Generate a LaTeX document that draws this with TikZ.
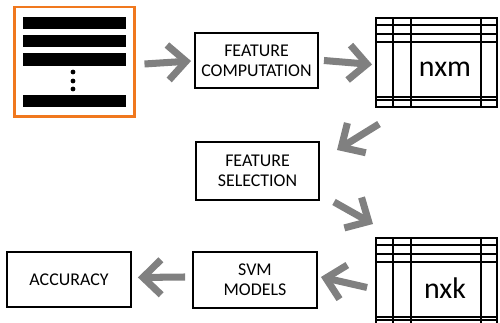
\documentclass[tikz,border=0pt]{standalone}
\usepackage{fontspec}
\setmainfont{Carlito}
\usetikzlibrary{arrows.meta}
\definecolor{frameorange}{RGB}{240,120,30}
\definecolor{arrowgray}{RGB}{128,128,128}
\tikzset{
  procbox/.style={draw=black, line width=1.1pt, minimum width=2.46cm, minimum height=1.1cm,
    align=center, font=\fontsize{10.2}{11.4}\selectfont, inner sep=0pt},
  matbox/.style={draw=black, line width=1.1pt, minimum width=2.42cm, minimum height=1.78cm,
    inner sep=0pt},
  matlabel/.style={font=\fontsize{17}{20}\selectfont, inner sep=0pt},
  matline/.style={line width=1.1pt},
  bigarrow/.style={draw=arrowgray, line width=4pt,
    -{Straight Barb[length=0.36cm, width=0.7cm, line width=4pt]}},
  bar/.style={fill=black},
}
\begin{document}
\begin{tikzpicture}[x=0.02cm, y=-0.02cm]
\useasboundingbox (0,0) rectangle (500,323);
\clip (0,0) rectangle (500,323);
% orange list box
\node[draw=frameorange, line width=1.7pt, minimum width=2.42cm, minimum height=2.2cm, inner sep=0pt] (list) at (74.5,62) {};
\fill[bar] (23,17) rectangle (126,29);
\fill[bar] (23,35) rectangle (126,47);
\fill[bar] (23,53) rectangle (126,66);
\fill[bar] (23,95) rectangle (126,107);
\fill (73,72) circle (2.4);
\fill (73,81) circle (2.4);
\fill (73,89) circle (2.4);
% process boxes
\node[procbox] (fc) at (256.5,60.5) {FEATURE\\COMPUTATION};
\node[procbox, minimum height=1.16cm] (fs) at (257.5,171) {FEATURE\\SELECTION};
\node[procbox, minimum width=2.48cm, minimum height=1.12cm] (svm) at (255,280) {SVM\\MODELS};
\node[procbox, minimum width=2.48cm] (acc) at (69,279.5) {ACCURACY};
% matrices
\node[matbox] (nxm) at (436.5,62.5) {};
\node[matbox] (nxk) at (436.5,282.5) {};
\foreach \m/\dy in {nxm/0, nxk/220}{
  \foreach \x in {393,411,481}{
    \draw[matline] (\x,18+\dy) -- (\x,107+\dy);
  }
  \foreach \y in {25,34,42,97,100}{
    \draw[matline] (376,\y+\dy) -- (497,\y+\dy);
  }
}
\node[matlabel] (nxmtext) at (445,69) {nxm};
\node[matlabel] (nxktext) at (445,288) {nxk};
% arrows
\coordinate (a3s) at (379,124);
\coordinate (a3e) at (337,150);
\coordinate (a4s) at (334,202);
\coordinate (a4e) at (373,224);
\draw[bigarrow] ([xshift=0.16cm,yshift=-0.04cm]list.east) -- ([xshift=-0.06cm,yshift=-0.01cm]fc.west);
\draw[bigarrow] ([xshift=0.1cm]fc.east) -- ([xshift=-0.06cm,yshift=-0.04cm]nxm.west);
\draw[bigarrow] (a3s) -- (a3e);
\draw[bigarrow] (a4s) -- (a4e);
\draw[bigarrow] ([xshift=-0.16cm,yshift=-0.1cm]nxk.west) -- ([xshift=0.06cm,yshift=0.06cm]svm.east);
\draw[bigarrow] ([xshift=-0.14cm,yshift=0.06cm]svm.west) -- ([xshift=0.12cm,yshift=0.04cm]acc.east);
\end{tikzpicture}
\end{document}
